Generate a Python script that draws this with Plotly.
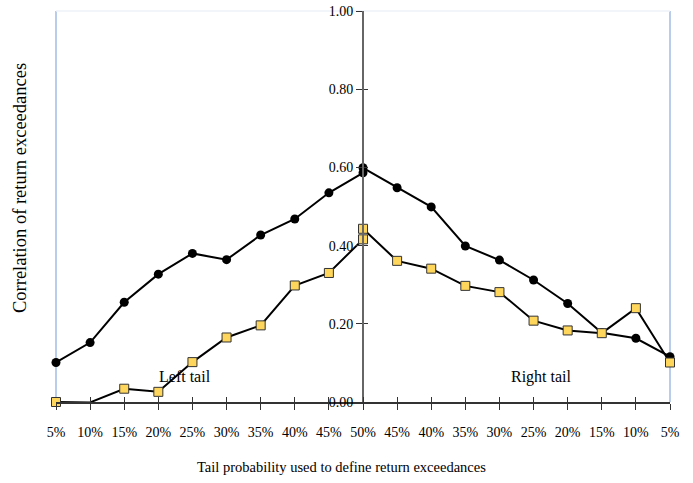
import plotly.graph_objects as go

tick_labels = ["5%", "10%", "15%", "20%", "25%", "30%", "35%", "40%", "45%", "50%",
               "45%", "40%", "35%", "30%", "25%", "20%", "15%", "10%", "5%"]

# Left tail: positions 0..9 (5% .. 50%), right tail: positions 9..18 (50% .. 5%)
black_left = [0.101, 0.152, 0.255, 0.327, 0.380, 0.364, 0.427, 0.468, 0.535, 0.586]
black_right = [0.599, 0.548, 0.499, 0.399, 0.363, 0.312, 0.252, 0.177, 0.163, 0.116]
yellow_left = [0.000, -0.001, 0.034, 0.026, 0.102, 0.165, 0.196, 0.298, 0.330, 0.416]
yellow_right = [0.443, 0.361, 0.341, 0.297, 0.281, 0.208, 0.183, 0.176, 0.240, 0.101]

x_left = list(range(0, 10))
x_right = list(range(9, 19))

FONT = "Liberation Serif"
YEL = "#FFD65C"

fig = go.Figure()

def add(xs, ys, marker):
    fig.add_trace(go.Scatter(x=xs, y=ys, mode="lines+markers",
                             line=dict(color="black", width=2),
                             marker=marker, cliponaxis=False, showlegend=False))

circ = dict(symbol="circle", size=9, color="black")
sq = dict(symbol="square", size=9, color=YEL, line=dict(color="#333333", width=1))
add(x_left, black_left, circ)
add(x_right, black_right, circ)
add(x_left, yellow_left, sq)
add(x_right, yellow_right, sq)

L, R, T, B = 56, 23, 11, 81
W, H = 693, 483
PW, PH = W - L - R, H - T - B

fig.update_layout(
    width=W, height=H,
    margin=dict(l=L, r=R, t=T, b=B, autoexpand=False),
    paper_bgcolor="white", plot_bgcolor="white",
    font=dict(family=FONT, size=14, color="black"),
    xaxis=dict(range=[0, 18], tickmode="array", tickvals=list(range(19)),
               ticktext=tick_labels, showgrid=False, zeroline=False,
               showline=True, linecolor="#333333", linewidth=1.5,
               ticks="outside", ticklen=6, tickcolor="#333333", tickwidth=1,
               ticklabelstandoff=10, tickfont=dict(size=14, family=FONT),
               ticklabeloverflow="allow", automargin=False),
    xaxis2=dict(range=[0, 18], overlaying="x", tickmode="array",
                tickvals=list(range(19)), showticklabels=False, showgrid=False,
                zeroline=False, ticks="inside", ticklen=5, tickcolor="#333333",
                side="bottom", anchor="y", automargin=False),
    yaxis=dict(range=[0, 1], tickmode="array", tickvals=[0, 0.2, 0.4, 0.6, 0.8, 1.0],
               tickformat=".2f", showgrid=False, zeroline=False,
               anchor="free", position=0.5, showline=True, linecolor="#666666",
               linewidth=2, ticks="outside", ticklen=6, tickcolor="#333333",
               tickfont=dict(size=14, family=FONT), ticklabeloverflow="allow",
               automargin=False),
    yaxis2=dict(range=[0, 1], overlaying="y", tickmode="array",
                tickvals=[0, 0.2, 0.4, 0.6, 0.8, 1.0], showticklabels=False,
                showgrid=False, zeroline=False, anchor="free", position=0.5,
                ticks="inside", ticklen=4, tickcolor="#333333", automargin=False),
)

# dummy trace to activate overlay axes
fig.add_trace(go.Scatter(x=[None], y=[None], xaxis="x2", yaxis="y2", showlegend=False))

# Plot-area frame (left, right, top) in light blue
fig.add_shape(type="line", xref="paper", yref="paper", x0=0, x1=0, y0=0, y1=1,
              line=dict(color="#B9CCEA", width=2), layer="below")
fig.add_shape(type="line", xref="paper", yref="paper", x0=1, x1=1, y0=0, y1=1,
              line=dict(color="#B9CCEA", width=2), layer="below")
fig.add_shape(type="line", xref="paper", yref="paper", x0=0, x1=1, y0=1, y1=1,
              line=dict(color="#EEF2F9", width=1.5), layer="below")

def px_x(px):
    return (px - L) / PW

def px_y(py):
    return 1 - (py - T) / PH

fig.add_annotation(text="Correlation of return exceedances", xref="paper", yref="paper",
                   x=px_x(20), y=px_y(188), textangle=-90, showarrow=False,
                   font=dict(size=18.5, family=FONT), xanchor="center", yanchor="middle")
fig.add_annotation(text="Tail probability used to define return exceedances",
                   xref="paper", yref="paper", x=px_x(341), y=px_y(467),
                   showarrow=False, font=dict(size=14.5, family=FONT),
                   xanchor="center", yanchor="middle")

fig.add_annotation(text="Left tail", x=3.77, y=0.065, showarrow=False,
                   font=dict(size=16, family=FONT))
fig.add_annotation(text="Right tail", x=14.22, y=0.065, showarrow=False,
                   font=dict(size=16, family=FONT))

fig.write_html("out.html", config={"displayModeBar": False},
               post_script="document.body.style.margin='0';document.body.style.padding='0';")
